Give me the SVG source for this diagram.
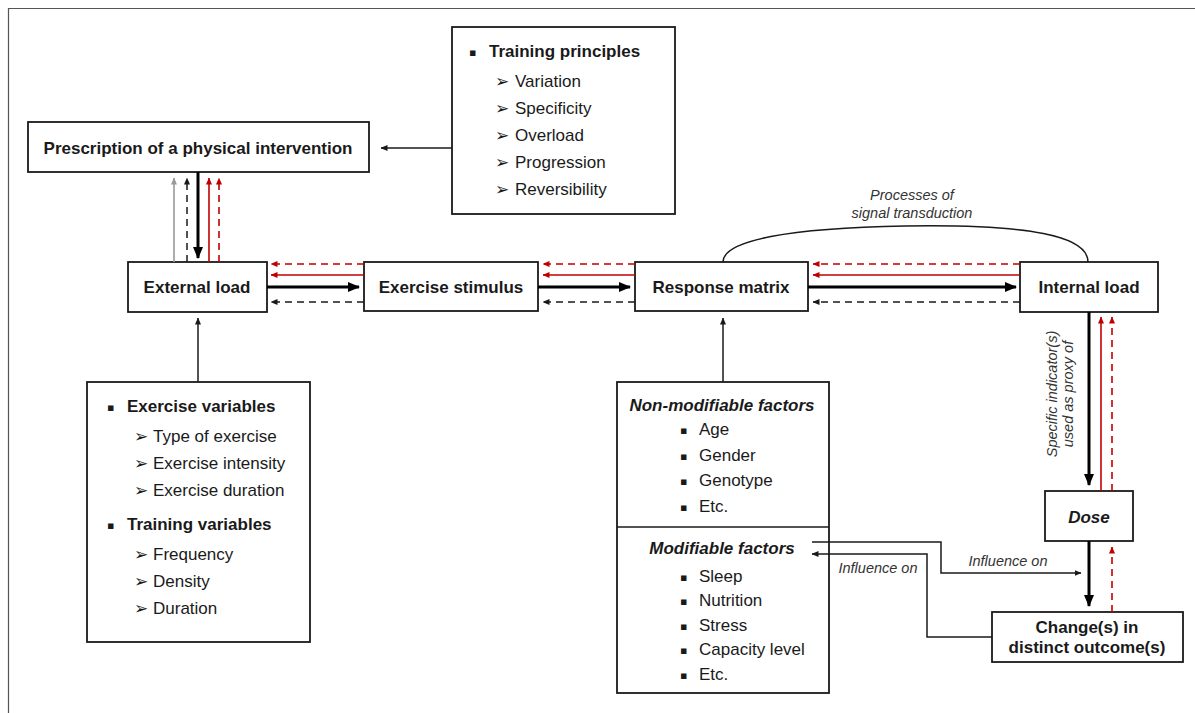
<svg xmlns="http://www.w3.org/2000/svg" width="1195" height="713" viewBox="0 0 1195 713">
<defs>
<style>
.box{fill:#fff;stroke:#1a1a1a;stroke-width:1.8}
.t{font-family:"Liberation Sans",Arial,sans-serif;font-size:17px;fill:#1a1a1a}
.b{font-weight:bold}
.bi{font-weight:bold;font-style:italic}
.i{font-family:"Liberation Sans",Arial,sans-serif;font-style:italic;font-size:14.5px;fill:#333}
.g{font-family:"DejaVu Sans",sans-serif;fill:#1a1a1a}
.sq{font-size:11px}
.ar{font-size:17px}
.thick{stroke:#000;stroke-width:3;fill:none}
.thin{stroke:#1a1a1a;stroke-width:1.5;fill:none}
.red{stroke:#c00000;stroke-width:1.6;fill:none}
.grey{stroke:#999;stroke-width:1.6;fill:none}
.dash{stroke-dasharray:7,5}
</style>
<marker id="mT" markerUnits="userSpaceOnUse" markerWidth="12" markerHeight="12" viewBox="0 0 12 12" refX="11" refY="6" orient="auto"><path d="M0,1 L12,6 L0,11 Z" fill="#000"/></marker>
<marker id="mK" markerUnits="userSpaceOnUse" markerWidth="7" markerHeight="7" viewBox="0 0 7 7" refX="6.5" refY="3.5" orient="auto"><path d="M0,0.5 L7,3.5 L0,6.5 Z" fill="#1a1a1a"/></marker>
<marker id="mR" markerUnits="userSpaceOnUse" markerWidth="7" markerHeight="7" viewBox="0 0 7 7" refX="6.5" refY="3.5" orient="auto"><path d="M0,0.5 L7,3.5 L0,6.5 Z" fill="#c00000"/></marker>
<marker id="mG" markerUnits="userSpaceOnUse" markerWidth="7" markerHeight="7" viewBox="0 0 7 7" refX="6.5" refY="3.5" orient="auto"><path d="M0,0.5 L7,3.5 L0,6.5 Z" fill="#999"/></marker>
</defs>
<rect width="1195" height="713" fill="#fff"/>
<path d="M8.5,713 V8.5 H1195" fill="none" stroke="#555" stroke-width="1.2"/>

<g id="prescription">
<rect class="box" x="28" y="122" width="341" height="50"/>
<text class="t b" x="198" y="154" text-anchor="middle" font-size="17.3">Prescription of a physical intervention</text>
</g>

<g id="training-principles">
<rect class="box" x="452" y="27" width="223" height="187"/>
<text class="g sq" x="469" y="56">▪</text>
<text class="t b" x="489" y="57">Training principles</text>
<text class="g ar" x="495" y="87">➢</text><text class="t" x="515" y="87">Variation</text>
<text class="g ar" x="495" y="114">➢</text><text class="t" x="515" y="114">Specificity</text>
<text class="g ar" x="495" y="141">➢</text><text class="t" x="515" y="141">Overload</text>
<text class="g ar" x="495" y="168">➢</text><text class="t" x="515" y="168">Progression</text>
<text class="g ar" x="495" y="195">➢</text><text class="t" x="515" y="195">Reversibility</text>
</g>

<g id="external-load">
<rect class="box" x="128" y="262" width="139" height="50"/>
<text class="t b" x="197" y="293" text-anchor="middle">External load</text>
</g>

<g id="exercise-stimulus">
<rect class="box" x="364" y="262" width="174" height="49"/>
<text class="t b" x="451" y="293" text-anchor="middle">Exercise stimulus</text>
</g>

<g id="response-matrix">
<rect class="box" x="635" y="262" width="173" height="49"/>
<text class="t b" x="721" y="293" text-anchor="middle">Response matrix</text>
</g>

<g id="internal-load">
<rect class="box" x="1020" y="262" width="138" height="50"/>
<text class="t b" x="1089" y="293" text-anchor="middle">Internal load</text>
</g>

<g id="exercise-variables">
<rect class="box" x="87" y="382" width="223" height="260"/>
<text class="g sq" x="107" y="411">▪</text>
<text class="t b" x="127" y="412">Exercise variables</text>
<text class="g ar" x="134" y="442">➢</text><text class="t" x="153" y="442">Type of exercise</text>
<text class="g ar" x="134" y="469">➢</text><text class="t" x="153" y="469">Exercise intensity</text>
<text class="g ar" x="134" y="496">➢</text><text class="t" x="153" y="496">Exercise duration</text>
<text class="g sq" x="107" y="529">▪</text>
<text class="t b" x="127" y="530">Training variables</text>
<text class="g ar" x="134" y="560">➢</text><text class="t" x="153" y="560">Frequency</text>
<text class="g ar" x="134" y="587">➢</text><text class="t" x="153" y="587">Density</text>
<text class="g ar" x="134" y="614">➢</text><text class="t" x="153" y="614">Duration</text>
</g>

<g id="factors">
<rect class="box" x="617" y="382" width="212" height="311"/>
<line x1="617" y1="527" x2="829" y2="527" stroke="#1a1a1a" stroke-width="1.5"/>
<text class="t bi" x="722" y="411" text-anchor="middle">Non-modifiable factors</text>
<text class="g sq" x="680" y="434">▪</text><text class="t" x="699" y="435">Age</text>
<text class="g sq" x="680" y="460">▪</text><text class="t" x="699" y="461">Gender</text>
<text class="g sq" x="680" y="485">▪</text><text class="t" x="699" y="486">Genotype</text>
<text class="g sq" x="680" y="511">▪</text><text class="t" x="699" y="512">Etc.</text>
<text class="t bi" x="722" y="554" text-anchor="middle">Modifiable factors</text>
<text class="g sq" x="680" y="581">▪</text><text class="t" x="699" y="582">Sleep</text>
<text class="g sq" x="680" y="605">▪</text><text class="t" x="699" y="606">Nutrition</text>
<text class="g sq" x="680" y="630">▪</text><text class="t" x="699" y="631">Stress</text>
<text class="g sq" x="680" y="654">▪</text><text class="t" x="699" y="655">Capacity level</text>
<text class="g sq" x="680" y="679">▪</text><text class="t" x="699" y="680">Etc.</text>
</g>

<g id="dose">
<rect class="box" x="1045" y="491" width="88" height="50"/>
<text class="t bi" x="1089" y="523" text-anchor="middle" font-size="20">Dose</text>
</g>

<g id="change">
<rect class="box" x="992" y="612" width="191" height="50"/>
<text class="t b" x="1087" y="633" text-anchor="middle">Change(s) in</text>
<text class="t b" x="1087" y="653" text-anchor="middle">distinct outcome(s)</text>
</g>

<g id="connectors">
<line class="thin" x1="452" y1="148" x2="381" y2="148" marker-end="url(#mK)"/>
<line class="grey" x1="174" y1="262" x2="174" y2="178" marker-end="url(#mG)"/>
<line class="thin dash" x1="187" y1="262" x2="187" y2="178" marker-end="url(#mK)"/>
<line class="thick" x1="198" y1="172" x2="198" y2="258" marker-end="url(#mT)"/>
<line class="red" x1="209" y1="262" x2="209" y2="178" marker-end="url(#mR)"/>
<line class="red dash" x1="219" y1="262" x2="219" y2="178" marker-end="url(#mR)"/>
<line class="red dash" x1="364" y1="264" x2="271" y2="264" marker-end="url(#mR)"/>
<line class="red" x1="364" y1="275" x2="271" y2="275" marker-end="url(#mR)"/>
<line class="thick" x1="267" y1="287" x2="359" y2="287" marker-end="url(#mT)"/>
<line class="thin dash" x1="364" y1="302" x2="271" y2="302" marker-end="url(#mK)"/>
<line class="red dash" x1="635" y1="264" x2="543" y2="264" marker-end="url(#mR)"/>
<line class="red" x1="635" y1="275" x2="543" y2="275" marker-end="url(#mR)"/>
<line class="thick" x1="538" y1="287" x2="630" y2="287" marker-end="url(#mT)"/>
<line class="thin dash" x1="635" y1="302" x2="543" y2="302" marker-end="url(#mK)"/>
<line class="red dash" x1="1020" y1="264" x2="813" y2="264" marker-end="url(#mR)"/>
<line class="red" x1="1020" y1="275" x2="813" y2="275" marker-end="url(#mR)"/>
<line class="thick" x1="808" y1="287" x2="1016" y2="287" marker-end="url(#mT)"/>
<line class="thin dash" x1="1020" y1="302" x2="813" y2="302" marker-end="url(#mK)"/>
<path class="thin" d="M723,262 C723,240 790,228 905,226 C1030,224 1088,236 1088,262"/>
<line class="thin" x1="198" y1="382" x2="198" y2="318" marker-end="url(#mK)"/>
<line class="thin" x1="723" y1="382" x2="723" y2="318" marker-end="url(#mK)"/>
<line class="thick" x1="1089" y1="312" x2="1089" y2="485" marker-end="url(#mT)"/>
<line class="red" x1="1101" y1="491" x2="1101" y2="317" marker-end="url(#mR)"/>
<line class="red dash" x1="1112" y1="491" x2="1112" y2="317" marker-end="url(#mR)"/>
<line class="thick" x1="1089" y1="541" x2="1089" y2="606" marker-end="url(#mT)"/>
<line class="red dash" x1="1112" y1="612" x2="1112" y2="547" marker-end="url(#mR)"/>
<path class="thin" d="M812,542 H941 V573 H1081" marker-end="url(#mK)"/>
<path class="thin" d="M992,637 H927 V554 H812" marker-end="url(#mK)"/>
<text class="i" x="1008" y="566" text-anchor="middle">Influence on</text>
<text class="i" x="878" y="573" text-anchor="middle">Influence on</text>
<text class="i" x="912" y="200" text-anchor="middle">Processes of</text>
<text class="i" x="912" y="218" text-anchor="middle">signal transduction</text>
<text class="i" transform="translate(1057,394) rotate(-90)" text-anchor="middle">Specific indicator(s)</text>
<text class="i" transform="translate(1073,394) rotate(-90)" text-anchor="middle">used as proxy of</text>
</g>
</svg>
